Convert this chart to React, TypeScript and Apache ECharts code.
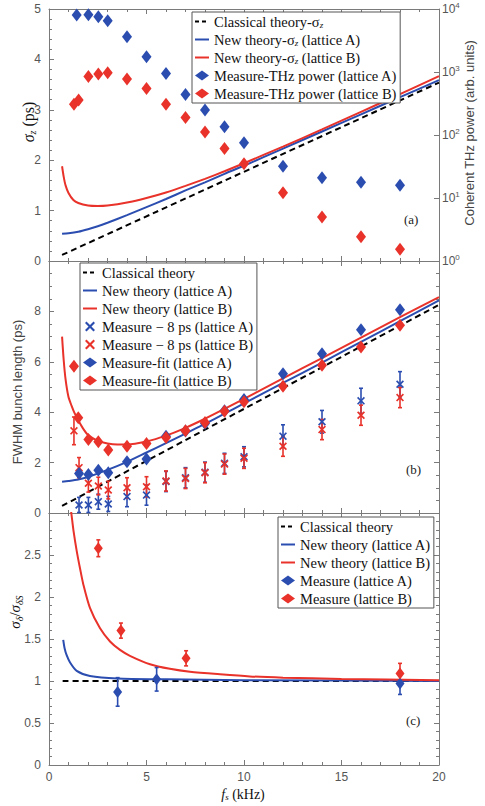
import React, { useEffect, useRef } from "react";
import * as echarts from "echarts";

// ---------- Panel (a) ----------
const thzFreqA = [1.42, 2.02, 2.53, 3.01, 4, 5, 6, 7, 8, 9, 10, 12, 14, 16, 18];
const thzPowerA = [8040, 8100, 7560, 6500, 3630, 1740, 950, 440, 250, 135, 75, 32, 21, 17.8, 15.9];
const thzFreqB = [1.28, 1.52, 2.02, 2.53, 3.01, 4, 5, 6, 7, 8, 9, 10, 12, 14, 16, 18];
const thzPowerB = [307, 360, 846, 930, 975, 776, 545, 307, 190, 112, 61, 35, 12.1, 5.0, 2.43, 1.53];

const sigFreqA = [0.67, 1, 1.5, 2, 2.5, 3, 4, 5, 6, 7, 8, 9, 10, 12, 14, 16, 18, 20];
const sigTheoryA = [0.54, 0.55, 0.58, 0.63, 0.69, 0.76, 0.91, 1.07, 1.23, 1.4, 1.56, 1.73, 1.89, 2.23, 2.57, 2.91, 3.25, 3.59];
const sigFreqB = [0.67, 0.75, 0.85, 1, 1.25, 1.5, 2, 2.5, 3, 4, 5, 6, 7, 8, 9, 10, 12, 14, 16, 18, 20];
const sigTheoryB = [1.88, 1.68, 1.5, 1.35, 1.21, 1.15, 1.1, 1.09, 1.1, 1.16, 1.25, 1.36, 1.49, 1.63, 1.78, 1.94, 2.27, 2.61, 2.96, 3.31, 3.67];
const sigClassFreq = [0.67, 20];
const sigClassical = [0.12, 3.54];

// ---------- Panel (b) ----------
const fwClassFreq = [0.67, 20];
const fwClassical = [0.28, 8.26];
const fwFreqA = [0.67, 1, 1.5, 2, 3, 4, 5, 6, 7, 8, 9, 10, 12, 14, 16, 18, 20];
const fwTheoryA = [1.24, 1.27, 1.33, 1.43, 1.71, 2.03, 2.4, 2.77, 3.15, 3.54, 3.94, 4.35, 5.16, 5.97, 6.79, 7.61, 8.44];
const fwFreqB = [0.67, 0.75, 0.85, 1.0, 1.16, 1.3, 1.5, 1.75, 2, 2.5, 3, 3.5, 4, 5, 6, 7, 8, 9, 10, 12, 14, 16, 18, 20];
const fwTheoryB = [7.0, 6.1, 5.3, 4.6, 4.25, 3.98, 3.68, 3.35, 3.1, 2.86, 2.76, 2.72, 2.72, 2.84, 3.07, 3.38, 3.74, 4.13, 4.53, 5.34, 6.15, 6.96, 7.77, 8.57];

const fitFreqA = [1.54, 2.02, 2.53, 3.04, 4, 5, 6, 7, 8, 9, 10, 12, 14, 16, 18];
const fitA = [1.57, 1.53, 1.7, 1.6, 2.03, 2.14, 3.05, 3.25, 3.55, 4.06, 4.5, 5.53, 6.32, 7.27, 8.07];
const fitFreqB = [1.28, 1.5, 2.02, 2.53, 3.04, 4, 5, 6, 7, 8, 9, 10, 12, 14, 16, 18];
const fitB = [5.82, 3.78, 2.92, 2.83, 2.5, 2.65, 2.76, 3.0, 3.26, 3.59, 4.04, 4.41, 5.03, 5.86, 6.59, 7.45];

const m8FreqA = [1.54, 2.02, 2.53, 3.04, 4, 5, 6, 7, 8, 9, 10, 12, 14, 16, 18];
const m8A = [0.32, 0.32, 0.45, 0.36, 0.65, 0.71, 1.25, 1.4, 1.62, 1.97, 2.23, 3.05, 3.62, 4.45, 5.11];
const m8ErrA = [0.3, 0.3, 0.3, 0.3, 0.4, 0.4, 0.4, 0.4, 0.4, 0.4, 0.4, 0.45, 0.45, 0.5, 0.5];
const m8FreqB = [1.28, 1.54, 2.02, 2.53, 3.04, 4, 5, 6, 7, 8, 9, 10, 12, 14, 16, 18];
const m8B = [3.26, 1.8, 1.18, 1.07, 0.91, 1.0, 1.04, 1.27, 1.37, 1.6, 1.94, 2.17, 2.65, 3.31, 3.88, 4.58];
const m8ErrB = [0.55, 0.4, 0.35, 0.35, 0.35, 0.4, 0.4, 0.4, 0.4, 0.4, 0.4, 0.4, 0.4, 0.4, 0.4, 0.4];

// ---------- Panel (c) ----------
const rClassFreq = [0.7, 20];
const rClassical = [1, 1];
const rFreqA = [0.73, 0.8, 0.9, 1.08, 1.42, 2.1, 3.5, 6, 10, 20];
const rTheoryA = [1.49, 1.39, 1.31, 1.22, 1.12, 1.06, 1.03, 1.02, 1.01, 1.0];
const rFreqB = [1.1, 1.16, 1.25, 1.42, 1.6, 1.76, 2.1, 2.61, 3.13, 3.64, 4.15, 5.18, 6.2, 7.23, 8.77, 10.3, 12, 15, 20];
const rTheoryB = [3.08, 2.97, 2.8, 2.55, 2.33, 2.15, 1.87, 1.63, 1.47, 1.37, 1.3, 1.2, 1.145, 1.11, 1.08, 1.055, 1.04, 1.025, 1.01];
const rMeasFreqA = [3.52, 5.52, 18];
const rMeasA = [0.87, 1.02, 0.97];
const rErrA = [0.17, 0.14, 0.13];
const rMeasFreqB = [2.53, 3.69, 7.03, 18];
const rMeasB = [2.58, 1.6, 1.27, 1.09];
const rErrB = [0.1, 0.09, 0.09, 0.12];

const BLUE = "#2b4db0";
const RED = "#e8322a";
const FRAME = "#7a7a7a";
const TICKTXT = "#555";
const SERIF = '"Liberation Serif", "DejaVu Serif", serif';
const SANS = '"Liberation Sans", Arial, sans-serif';
const XMARK = "path://M0,1.5L1.5,0L5,3.5L8.5,0L10,1.5L6.5,5L10,8.5L8.5,10L5,6.5L1.5,10L0,8.5L3.5,5Z";
const DASH: number[] = [6, 4];

const zip = (a: number[], b: number[]) => a.map((x, i) => [x, b[i]]);
const zip3 = (a: number[], b: number[], c: number[]) => a.map((x, i) => [x, b[i], c[i]]);

const xAxisOf = (gridIndex: number, position: string, labels: boolean) => ({
  type: "value",
  gridIndex,
  position,
  min: 0,
  max: 20,
  interval: 5,
  axisLine: { show: true, onZero: false, lineStyle: { color: FRAME, width: 1 } },
  axisTick: { show: true, inside: true, length: 5, lineStyle: { color: FRAME } },
  minorTick: { show: true, splitNumber: 5, length: 3, lineStyle: { color: FRAME } },
  axisLabel: { show: labels, color: TICKTXT, fontFamily: SANS, fontSize: 12, margin: 6 },
  splitLine: { show: false },
});

const yAxisOf = (gridIndex: number, position: string, max: number, interval: number, minor: number, labels: boolean, showMax: boolean) => ({
  type: "value",
  gridIndex,
  position,
  min: 0,
  max,
  interval,
  axisLine: { show: true, onZero: false, lineStyle: { color: FRAME, width: 1 } },
  axisTick: { show: true, inside: true, length: 5, lineStyle: { color: FRAME } },
  minorTick: { show: true, splitNumber: minor, length: 3, lineStyle: { color: FRAME } },
  axisLabel: { show: labels, color: TICKTXT, fontFamily: SANS, fontSize: 12, margin: 8, showMaxLabel: showMax },
  splitLine: { show: false },
});

const lineSeries = (name: string, data: number[][], color: string, xi: number, yi: number, dashed = false) => ({
  name,
  type: "line",
  xAxisIndex: xi,
  yAxisIndex: yi,
  data,
  showSymbol: false,
  symbol: "none",
  smooth: 0.25,
  lineStyle: { color, width: 2, type: dashed ? DASH : "solid" },
  itemStyle: { color },
  z: 3,
});

const scatterSeries = (name: string, data: number[][], color: string, xi: number, yi: number, symbol: string, size: any) => ({
  name,
  type: "scatter",
  xAxisIndex: xi,
  yAxisIndex: yi,
  data,
  symbol,
  symbolSize: size,
  itemStyle: { color, opacity: 1 },
  z: 5,
});

const errSeries = (data: number[][], color: string, xi: number, yi: number) => ({
  type: "custom",
  xAxisIndex: xi,
  yAxisIndex: yi,
  data,
  encode: { x: 0, y: 1 },
  z: 4,
  renderItem: (params: any, api: any) => {
    const x = api.value(0);
    const y = api.value(1);
    const e = api.value(2);
    const top = api.coord([x, y + e]);
    const bot = api.coord([x, y - e]);
    const st = { stroke: color, lineWidth: 1.6 };
    return {
      type: "group",
      children: [
        { type: "line", shape: { x1: top[0], y1: top[1], x2: bot[0], y2: bot[1] }, style: st },
        { type: "line", shape: { x1: top[0] - 2, y1: top[1], x2: top[0] + 2, y2: top[1] }, style: st },
        { type: "line", shape: { x1: bot[0] - 2, y1: bot[1], x2: bot[0] + 2, y2: bot[1] }, style: st },
      ],
    };
  },
});

// legend entries: line entries hide the symbol dot and get their own line style
const lineItem = (name: string, color: string, dashed = false) => ({
  name,
  itemStyle: { opacity: 0 },
  lineStyle: { color, width: 2, type: dashed ? [4, 3] : "solid", opacity: 1 },
});

const legendOf = (left: number, top: number, items: any[]) => ({
  orient: "vertical",
  left,
  top,
  data: items,
  itemWidth: 14,
  itemHeight: 10,
  itemGap: 3,
  padding: [2, 3, 2, 2],
  backgroundColor: "#fff",
  borderColor: "#555",
  borderWidth: 1,
  selectedMode: false,
  textStyle: {
    fontFamily: SERIF,
    fontSize: 14.5,
    lineHeight: 14,
    color: "#111",
    rich: {
      sub: { fontFamily: SERIF, fontSize: 9, fontStyle: "italic", padding: [6, 0, 0, 0], color: "#111" },
    },
  },
  formatter: (n: string) => n.replace("σz", "σ{sub|z}"),
});

const option: any = {
  animation: false,
  backgroundColor: "#fff",
  grid: [
    { left: 49, top: 9, width: 390, height: 252 },
    { left: 49, top: 261, width: 390, height: 252 },
    { left: 49, top: 513, width: 390, height: 252 },
  ],
  xAxis: [
    xAxisOf(0, "bottom", false),
    xAxisOf(0, "top", false),
    xAxisOf(1, "bottom", false),
    xAxisOf(1, "top", false),
    xAxisOf(2, "bottom", true),
    xAxisOf(2, "top", false),
  ],
  yAxis: [
    yAxisOf(0, "left", 5, 1, 5, true, true),
    {
      type: "log",
      logBase: 10,
      gridIndex: 0,
      position: "right",
      min: 1,
      max: 10000,
      axisLine: { show: true, onZero: false, lineStyle: { color: FRAME, width: 1 } },
      axisTick: { show: true, inside: true, length: 5, lineStyle: { color: FRAME } },
      minorTick: { show: false },
      splitLine: { show: false },
      axisLabel: {
        margin: 3,
        color: TICKTXT,
        formatter: (v: number) => "{b|10}{sup|" + Math.round(Math.log10(v)) + "}",
        rich: {
          b: { fontFamily: SANS, fontSize: 12, color: TICKTXT },
          sup: { fontFamily: SANS, fontSize: 8, color: TICKTXT, padding: [0, 0, 8, 0] },
        },
      },
    },
    yAxisOf(1, "left", 10, 2, 4, true, false),
    yAxisOf(1, "right", 10, 2, 4, false, false),
    yAxisOf(2, "left", 3, 0.5, 5, true, false),
    yAxisOf(2, "right", 3, 0.5, 5, false, false),
  ],
  legend: [
    legendOf(192, 12, [
      lineItem("Classical theory-σz", "#000", true),
      lineItem("New theory-σz (lattice A)", BLUE),
      lineItem("New theory-σz (lattice B)", RED),
      "Measure-THz power (lattice A)",
      "Measure-THz power (lattice B)",
    ]),
    legendOf(80, 263, [
      lineItem("Classical theory", "#000", true),
      lineItem("New theory (lattice A)", BLUE),
      lineItem("New theory (lattice B)", RED),
      "Measure − 8 ps (lattice A)",
      "Measure − 8 ps (lattice B)",
      "Measure-fit (lattice A)",
      "Measure-fit (lattice B)",
    ]),
    legendOf(278, 517, [
      lineItem("Classical theory", "#000", true),
      lineItem("New theory (lattice A)", BLUE),
      lineItem("New theory (lattice B)", RED),
      "Measure (lattice A)",
      "Measure (lattice B)",
    ]),
  ],
  series: [
    // panel a
    lineSeries("Classical theory-σz", zip(sigClassFreq, sigClassical), "#000", 0, 0, true),
    lineSeries("New theory-σz (lattice A)", zip(sigFreqA, sigTheoryA), BLUE, 0, 0),
    lineSeries("New theory-σz (lattice B)", zip(sigFreqB, sigTheoryB), RED, 0, 0),
    scatterSeries("Measure-THz power (lattice A)", zip(thzFreqA, thzPowerA), BLUE, 0, 1, "diamond", [10, 13]),
    scatterSeries("Measure-THz power (lattice B)", zip(thzFreqB, thzPowerB), RED, 0, 1, "diamond", [10, 13]),
    // panel b
    lineSeries("Classical theory", zip(fwClassFreq, fwClassical), "#000", 2, 2, true),
    lineSeries("New theory (lattice A)", zip(fwFreqA, fwTheoryA), BLUE, 2, 2),
    lineSeries("New theory (lattice B)", zip(fwFreqB, fwTheoryB), RED, 2, 2),
    errSeries(zip3(m8FreqA, m8A, m8ErrA), BLUE, 2, 2),
    errSeries(zip3(m8FreqB, m8B, m8ErrB), RED, 2, 2),
    scatterSeries("Measure − 8 ps (lattice A)", zip(m8FreqA, m8A), BLUE, 2, 2, XMARK, 8),
    scatterSeries("Measure − 8 ps (lattice B)", zip(m8FreqB, m8B), RED, 2, 2, XMARK, 8),
    scatterSeries("Measure-fit (lattice A)", zip(fitFreqA, fitA), BLUE, 2, 2, "diamond", [10, 13]),
    scatterSeries("Measure-fit (lattice B)", zip(fitFreqB, fitB), RED, 2, 2, "diamond", [10, 13]),
    // panel c
    lineSeries("Classical theory", zip(rClassFreq, rClassical), "#000", 4, 4, true),
    lineSeries("New theory (lattice A)", zip(rFreqA, rTheoryA), BLUE, 4, 4),
    lineSeries("New theory (lattice B)", zip(rFreqB, rTheoryB), RED, 4, 4),
    errSeries(zip3(rMeasFreqA, rMeasA, rErrA), BLUE, 4, 4),
    errSeries(zip3(rMeasFreqB, rMeasB, rErrB), RED, 4, 4),
    scatterSeries("Measure (lattice A)", zip(rMeasFreqA, rMeasA), BLUE, 4, 4, "diamond", [9, 12]),
    scatterSeries("Measure (lattice B)", zip(rMeasFreqB, rMeasB), RED, 4, 4, "diamond", [9, 12]),
  ],
  graphic: [
    {
      type: "text", x: 28, y: 122, rotation: Math.PI / 2,
      style: {
        text: "{i|σ}{sub|z}{n| (ps)}", align: "center", verticalAlign: "middle", fill: "#111",
        rich: {
          i: { fontFamily: SERIF, fontSize: 16, fontStyle: "italic", fill: "#111" },
          n: { fontFamily: SERIF, fontSize: 16, fill: "#111" },
          sub: { fontFamily: SERIF, fontSize: 10, fontStyle: "italic", padding: [8, 0, 0, 0], fill: "#111" },
        },
        font: "16px " + SERIF,
      },
    },
    {
      type: "text", x: 17, y: 392, rotation: Math.PI / 2,
      style: { text: "FWHM bunch length (ps)", align: "center", verticalAlign: "middle", fill: "#444", font: "13px " + SANS },
    },
    {
      type: "text", x: 15, y: 612, rotation: Math.PI / 2,
      style: {
        text: "{i|σ}{sub|δ}{n|/}{i|σ}{sub|δS}", align: "center", verticalAlign: "middle", fill: "#111",
        rich: {
          i: { fontFamily: SERIF, fontSize: 15, fontStyle: "italic", fill: "#111" },
          n: { fontFamily: SERIF, fontSize: 15, fill: "#111" },
          sub: { fontFamily: SERIF, fontSize: 10, fontStyle: "italic", padding: [8, 0, 0, 0], fill: "#111" },
        },
        font: "15px " + SERIF,
      },
    },
    {
      type: "text", x: 469, y: 133, rotation: Math.PI / 2,
      style: { text: "Coherent THz power (arb. units)", align: "center", verticalAlign: "middle", fill: "#444", font: "13px " + SANS },
    },
    {
      type: "text", x: 243, y: 794,
      style: {
        text: "{i|f}{sub|s}{n| (kHz)}", align: "center", verticalAlign: "middle", fill: "#111",
        rich: {
          i: { fontFamily: SERIF, fontSize: 14, fontStyle: "italic", fill: "#111" },
          n: { fontFamily: SERIF, fontSize: 14, fill: "#111" },
          sub: { fontFamily: SERIF, fontSize: 9, fontStyle: "italic", padding: [6, 0, 0, 0], fill: "#111" },
        },
        font: "14px " + SERIF,
      },
    },
    { type: "text", x: 404, y: 213, style: { text: "(a)", fill: "#222", font: "13px " + SERIF } },
    { type: "text", x: 406, y: 463, style: { text: "(b)", fill: "#222", font: "13px " + SERIF } },
    { type: "text", x: 406, y: 714, style: { text: "(c)", fill: "#222", font: "13px " + SERIF } },
  ],
};

export default function App() {
  const ref = useRef<HTMLDivElement>(null);
  useEffect(() => {
    if (!ref.current) return;
    const chart = echarts.init(ref.current, null, { renderer: "svg" });
    chart.setOption(option);
    return () => chart.dispose();
  }, []);
  return (
    <div
      ref={ref}
      style={{ position: "absolute", left: 0, top: 0, width: 485, height: 806, background: "#fff" }}
    />
  );
}
